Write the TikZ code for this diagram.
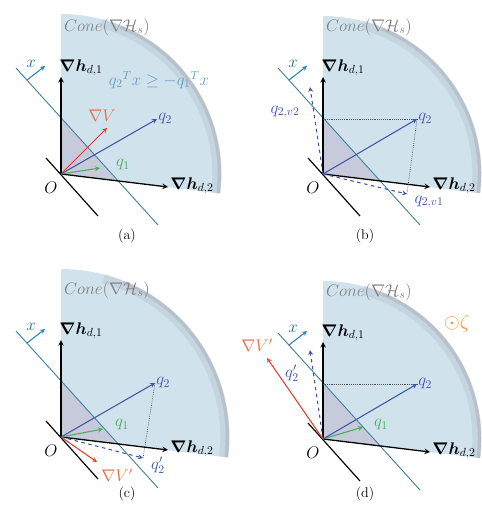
\documentclass[tikz,border=0pt]{standalone}
\usepackage{amsmath}
\usepackage{amssymb}
\usepackage{bm}
\usetikzlibrary{arrows}

\definecolor{coneblue}{RGB}{208,227,237}
\definecolor{rimgray}{RGB}{150,150,162}
\definecolor{planeteal}{RGB}{70,130,155}
\definecolor{xblue}{RGB}{40,130,180}
\definecolor{qtwoblue}{RGB}{65,85,170}
\definecolor{qonegreen}{RGB}{70,175,90}
\definecolor{gradred}{RGB}{215,65,45}
\definecolor{gradorange}{RGB}{230,110,70}
\definecolor{trigray}{RGB}{196,196,214}
\definecolor{textteal}{RGB}{100,160,190}
\definecolor{zetaorange}{RGB}{240,150,50}

\begin{document}
\begin{tikzpicture}[x=0.03cm,y=0.03cm,
  haxis/.style={-stealth, line width=1.1pt, black},
  plane/.style={planeteal, line width=0.8pt},
  vecline/.style={-stealth, line width=0.9pt},
  dashvec/.style={-stealth, line width=0.9pt, qtwoblue, dashed},
  proj/.style={densely dotted, line width=0.6pt, black!70},
  lab/.style={font=\Large, inner sep=1pt}]
  \useasboundingbox (0,0) rectangle (481,-516);
  % --- part shared by the four panels ---
  \def\coneBase#1{%
    \coordinate (O) at (0,0);
    \coordinate (h1) at (0,97);
    \coordinate (h2) at (107,-13);
    \coordinate (pA) at (-45,106);
    \coordinate (pB) at (97,-51);
    \coordinate (pC) at (0,56);
    \coordinate (pD) at (56,-7);
    \coordinate (nA) at (-15,16);
    \coordinate (nB) at (37,-42);
    \coordinate (xs) at (-34,94);
    \coordinate (xe) at (-16,108);
    \fill[coneblue] (O) -- ({-7}:#1) arc[start angle=-7, end angle=90, radius=#1] -- cycle;
    \draw[rimgray, line width=8pt, opacity=0.18] ({-7}:{#1-4}) arc[start angle=-7, end angle=75, radius={#1-4}];
    \draw[rimgray, line width=3pt, opacity=0.3] ({-7}:{#1-1.5}) arc[start angle=-7, end angle=68, radius={#1-1.5}];
    \fill[trigray, opacity=0.8] (O) -- (pC) -- (pD) -- cycle;
    \node[lab, black!50] (cone) at (46,147) {$Cone(\nabla\mathcal{H}_s)$};
    \draw[plane] (pA) -- (pB);
    \draw[line width=1pt] (nA) -- (nB);
    \draw[haxis] (O) -- (h1);
    \draw[haxis] (O) -- (h2);
    \node[lab] (h1lab) at (20,106) {$\bm{\nabla h}_{d,1}$};
    \node[lab, anchor=west] (h2lab) at (108,-12) {$\bm{\nabla h}_{d,2}$};
    \node[lab] (Olab) at (-10,-14) {$O$};
    \draw[vecline, xblue] (xs) -- (xe);
    \node[lab, xblue!80!black] (xlab) at (-30,110) {$x$};
  }

\begin{scope}[shift={(61,-174)}]
    % --- PANEL (a) ---
    \coneBase{160}
    \coordinate (q2) at (96,55);
    \coordinate (gV) at (46,46);
    \coordinate (q1) at (39,6);
	\draw[vecline, qonegreen] (O) -- (q1);
	\draw[vecline, gradred] (O) -- (gV);
	\draw[vecline, qtwoblue] (O) -- (q2);
	\node[lab, qtwoblue, anchor=west] (q2lab) at (q2) {$q_2$};
	\node[lab, gradorange] (gVlab) at (41,58) {$\nabla V$};
	\node[lab, qonegreen] (q1lab) at (62,9) {$q_1$};
	\node[lab, textteal] (ineq) at (98,94) {${q_2}^{T}x \geq -{q_1}^{T}x$};
	\node[font=\large] (capa) at (66,-62) {(a)};
\end{scope}

\begin{scope}[shift={(323,-174)}]
    % --- PANEL (b) ---
    \coneBase{158}
    \coordinate (q2) at (94,55);
    \coordinate (pE) at (0,55);
    \coordinate (v1) at (84,-20);
    \coordinate (v2) at (-13,87);
	\draw[proj] (pE) -- (q2);
	\draw[proj] (q2) -- (v1);
	\draw[dashvec] (O) -- (v1);
	\draw[dashvec] (O) -- (v2);
	\draw[vecline, qtwoblue] (O) -- (q2);
	\node[lab, qtwoblue, anchor=west] (q2lab) at (q2) {$q_2$};
	\node[lab, qtwoblue] (v2lab) at (-38,62) {$q_{2,v2}$};
	\node[lab, qtwoblue] (v1lab) at (106,-28) {$q_{2,v1}$};
	\node[font=\large] (capb) at (42,-62) {(b)};
\end{scope}

\begin{scope}[shift={(61,-437)}]
    % --- PANEL (c) ---
    \coneBase{168}
    \coordinate (q2) at (94,54);
    \coordinate (q2p) at (82,-21);
    \coordinate (q1) at (42,8);
    \coordinate (gVp) at (36,-25);
	\draw[proj] (q2) -- (q2p);
	\draw[dashvec] (O) -- (q2p);
	\draw[vecline, qonegreen] (O) -- (q1);
	\draw[vecline, gradred] (O) -- (gVp);
	\draw[vecline, qtwoblue] (O) -- (q2);
	\node[lab, qtwoblue, anchor=west] (q2lab) at (q2) {$q_2$};
	\node[lab, qtwoblue] (q2plab) at (97,-28) {$q_2'$};
	\node[lab, qonegreen] (q1lab) at (61,12) {$q_1$};
	\node[lab, gradorange] (gVplab) at (56,-38) {$\nabla V'$};
	\node[font=\large] (capc) at (66,-57) {(c)};
\end{scope}

\begin{scope}[shift={(323,-439)}]
    % --- PANEL (d) ---
    \coneBase{158}
    \coordinate (q2) at (94,55);
    \coordinate (pE) at (0,55);
    \coordinate (q2p) at (-13,89);
    \coordinate (q1) at (40,12);
    \coordinate (gVp) at (-56,81);
	\draw[proj] (pE) -- (q2);
	\draw[dashvec] (O) -- (q2p);
	\draw[vecline, qonegreen] (O) -- (q1);
	\draw[vecline, gradred] (O) -- (gVp);
	\draw[vecline, qtwoblue] (O) -- (q2);
	\node[lab, qtwoblue, anchor=west] (q2lab) at (q2) {$q_2$};
	\node[lab, qtwoblue] (q2plab) at (-31,66) {$q_2'$};
	\node[lab, qonegreen] (q1lab) at (58,14) {$q_1$};
	\node[lab, gradorange] (gVplab) at (-66,94) {$\nabla V'$};
	\node[lab, zetaorange] (zeta) at (134,116) {\LARGE$\odot\zeta$};
	\node[font=\large] (capd) at (42,-55) {(d)};
\end{scope}
\end{tikzpicture}
\end{document}
